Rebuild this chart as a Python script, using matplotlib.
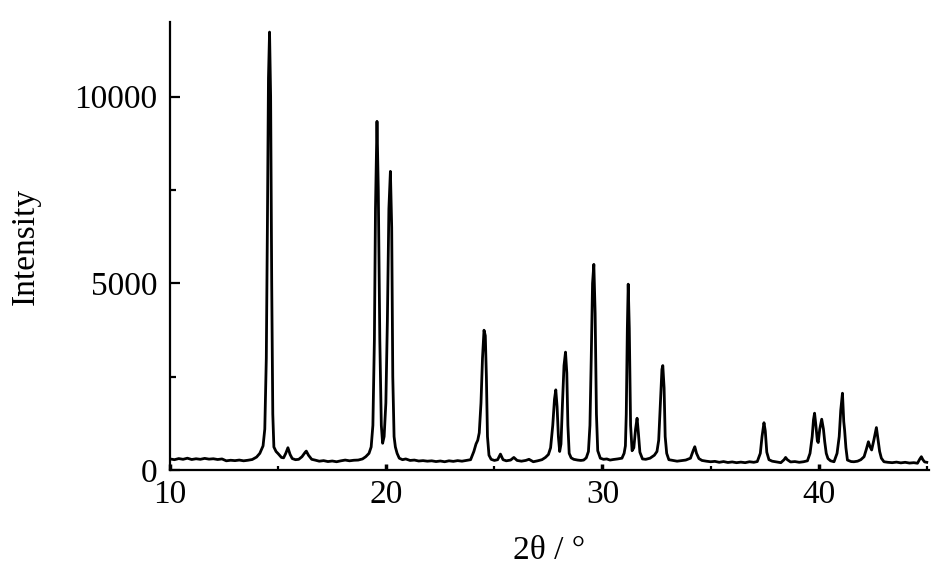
import matplotlib
matplotlib.use("Agg")
import matplotlib.pyplot as plt
from matplotlib.ticker import MultipleLocator

# XRD pattern (2theta in degrees, counts)
two_theta = [
    10.0, 10.2, 10.4, 10.6, 10.8, 11.0, 11.2, 11.4, 11.6, 11.8, 12.0, 12.2,
    12.4, 12.6, 12.8, 13.0, 13.2, 13.4, 13.6, 13.8,
    14.0, 14.15, 14.3, 14.38, 14.45, 14.5, 14.55, 14.6, 14.65, 14.7, 14.75,
    14.8, 14.9, 15.0, 15.15, 15.25, 15.35, 15.45, 15.55, 15.65, 15.8, 15.95,
    16.1, 16.25, 16.3, 16.4, 16.55, 16.7, 16.9, 17.1, 17.3, 17.5, 17.7, 17.9,
    18.1, 18.3, 18.5, 18.7, 18.9,
    19.05, 19.2, 19.3, 19.38, 19.45, 19.5, 19.57, 19.63, 19.7, 19.77, 19.83,
    19.9, 19.98, 20.05, 20.12, 20.19, 20.25, 20.3, 20.36, 20.42, 20.5, 20.6,
    20.75, 20.9, 21.1, 21.3, 21.5, 21.7, 21.9, 22.1, 22.3, 22.5, 22.7, 22.9,
    23.1, 23.3, 23.5, 23.7, 23.9,
    24.05, 24.15, 24.23, 24.3, 24.38, 24.45, 24.52, 24.58, 24.63, 24.68,
    24.75, 24.85, 25.0, 25.15, 25.28, 25.4, 25.55, 25.75, 25.9, 26.05, 26.25,
    26.45, 26.6, 26.8, 27.0, 27.2, 27.36, 27.5, 27.6,
    27.7, 27.78, 27.84, 27.9, 27.96, 28.02, 28.08, 28.15, 28.22, 28.29, 28.35,
    28.4, 28.46, 28.55, 28.67, 28.85, 29.0, 29.13, 29.25, 29.35, 29.42, 29.48,
    29.54, 29.6, 29.66, 29.72, 29.78, 29.9, 30.05, 30.2, 30.35, 30.5, 30.7,
    30.9, 31.0, 31.06, 31.1, 31.15, 31.19, 31.24, 31.3, 31.37, 31.45, 31.53,
    31.6, 31.66, 31.73, 31.85, 32.0, 32.2, 32.4, 32.52, 32.6, 32.68, 32.75,
    32.79, 32.85, 32.9, 32.97, 33.07, 33.25, 33.45, 33.65, 33.85, 34.07, 34.2,
    34.27, 34.35, 34.46, 34.6, 34.8, 35.0, 35.2, 35.4, 35.6, 35.8, 36.0, 36.2,
    36.4, 36.6, 36.8, 37.0, 37.16, 37.3, 37.38, 37.47, 37.53, 37.6, 37.7,
    37.85, 38.05, 38.25, 38.4, 38.47, 38.55, 38.7, 38.9, 39.1, 39.3, 39.48,
    39.6, 39.7, 39.76, 39.81, 39.87, 39.94, 39.98, 40.05, 40.14, 40.22, 40.28,
    40.35, 40.43, 40.55, 40.71, 40.85, 40.95, 41.02, 41.1, 41.16, 41.2, 41.26,
    41.33, 41.5, 41.63, 41.8, 41.95, 42.1, 42.2, 42.3, 42.38, 42.45, 42.55,
    42.67, 42.75, 42.82, 42.9, 43.02, 43.2, 43.4, 43.6, 43.8, 44.0, 44.2,
    44.4, 44.57, 44.68, 44.75, 44.82, 44.9, 45.0,
]

intensity = [
    300, 280, 310, 290, 320, 285, 305, 290, 315, 295, 305, 285,
    300, 250, 265, 255, 270, 250, 265, 285,
    350, 450, 650, 1100, 3000, 6500, 10500, 11730, 10000, 5000, 1500,
    620, 500, 440, 340, 330, 450, 600, 420, 310, 280, 290,
    360, 480, 510, 400, 290, 270, 240, 255, 230, 245, 225, 250,
    270, 250, 265, 270, 300,
    360, 450, 620, 1200, 3500, 7000, 9340, 7500, 3500, 1200, 720,
    900, 1800, 4000, 7000, 8000, 6500, 2500, 900, 620, 450, 320,
    280, 300, 260, 270, 245, 255, 240, 250, 230, 245, 225, 250,
    235, 255, 240, 260, 280,
    500, 700, 800, 1000, 1800, 3000, 3747, 3600, 2500, 900,
    400, 290, 260, 280, 430, 280, 250, 270, 340, 260, 240,
    260, 290, 225, 250, 280, 340, 420, 600,
    1200, 1900, 2150, 1700, 900, 500, 700, 1800, 2800, 3160, 2600,
    1200, 450, 330, 290, 270, 260, 270, 330, 500, 1200, 3000,
    5000, 5510, 4200, 1500, 520, 320, 290, 300, 270, 285, 300,
    320, 450, 650, 1500, 3800, 4980, 3800, 1200, 520, 600, 1100,
    1390, 1000, 480, 300, 290, 320, 400, 500, 800, 1800, 2700,
    2800, 2200, 900, 450, 280, 260, 240, 255, 270, 320, 530,
    627, 450, 310, 260, 240, 225, 235, 210, 230, 205, 220, 200,
    215, 200, 225, 210, 230, 450, 900, 1270, 1050, 480, 280,
    240, 220, 200, 280, 340, 280, 220, 230, 210, 225, 250,
    450, 900, 1350, 1525, 1200, 780, 740, 1100, 1364, 1100, 760,
    450, 310, 250, 225, 450, 900, 1600, 2060, 1300, 1070, 600,
    270, 230, 225, 240, 280, 360, 550, 760, 620, 540, 800,
    1140, 800, 500, 320, 225, 210, 200, 215, 195, 210, 190,
    200, 185, 300, 360, 280, 220, 210,
]

plt.rcParams["font.family"] = ["Liberation Serif", "DejaVu Serif"]

fig = plt.figure(figsize=(9.45, 5.79), dpi=100)
ax = fig.add_axes([0.18, 0.188, 0.803, 0.774])

ax.plot(two_theta, intensity, color="black", linewidth=2.0)

ax.set_xlim(10, 45.1)
ax.set_ylim(0, 12000)

for side in ("top", "right"):
    ax.spines[side].set_visible(False)
for side in ("left", "bottom"):
    ax.spines[side].set_linewidth(1.6)

ax.xaxis.set_major_locator(MultipleLocator(10))
ax.xaxis.set_minor_locator(MultipleLocator(5))
ax.yaxis.set_major_locator(MultipleLocator(5000))
ax.yaxis.set_minor_locator(MultipleLocator(2500))

ax.tick_params(axis="y", which="major", direction="in", length=7, width=1.6,
               labelsize=24, pad=9)
ax.tick_params(axis="y", which="minor", direction="in", length=4, width=1.6)
ax.tick_params(axis="x", which="major", direction="in", length=4, width=2.5,
               labelsize=24, pad=7)
ax.tick_params(axis="x", which="minor", direction="in", length=3, width=1.6)

ax.set_xlabel("2θ / °", fontsize=24, labelpad=18)
ax.set_ylabel("Intensity", fontsize=24, labelpad=24)

fig.savefig("out.png", dpi=100)
